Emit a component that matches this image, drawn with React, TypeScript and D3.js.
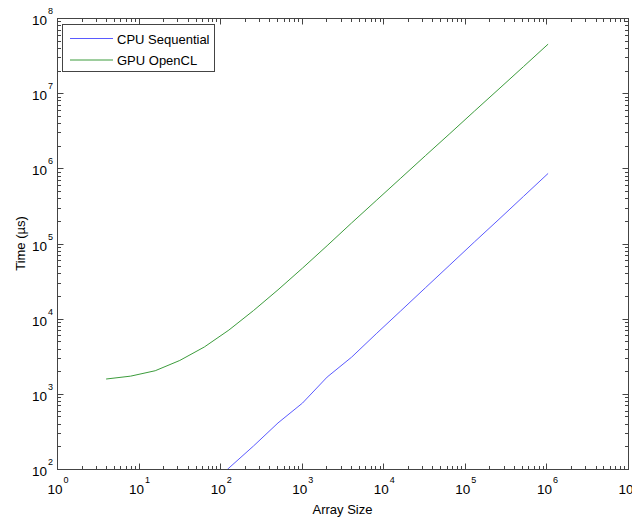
import React from "react";
import * as d3 from "d3";

const sizes = [4, 8, 16, 32, 64, 128, 256, 512, 1024, 2048, 4096, 8192, 16384, 32768, 65536, 131072, 262144, 524288, 1048576];
const gpuTimes = [1574, 1720, 2030, 2780, 4200, 7050, 12800, 24200, 47100, 93500, 188000, 373000, 740000, 1470000, 2900000, 5770000, 11400000, 22600000, 44900000];
const cpuSizes = [64, 128, 256, 512, 1024, 2048, 4096, 8192, 16384, 32768, 65536, 131072, 262144, 524288, 1048576];
const cpuTimes = [50, 103, 202, 410, 755, 1670, 3080, 6300, 12700, 25700, 51900, 105000, 210000, 424000, 855000];
const xDecades = [0, 1, 2, 3, 4, 5, 6, 7];
const yDecades = [2, 3, 4, 5, 6, 7, 8];
const seriesNames = ["CPU Sequential", "GPU OpenCL"];
const seriesColors = ["#5a5aff", "#3c9c3c"];

const W = 632, H = 522;
const L = 57, R = 628, T = 18, B = 469;
const FONT = "'Liberation Sans', Arial, Helvetica, sans-serif";
const AX = "#444";

export default function App() {
  const x = d3.scaleLog().domain([1, 1e7]).range([L, R]);
  const y = d3.scaleLog().domain([100, 1e8]).range([B, T]);
  const line = d3.line<[number, number]>().x(d => x(d[0])).y(d => y(d[1]));
  const cpu = line(cpuSizes.map((s, i) => [s, cpuTimes[i]]) as [number, number][]) || "";
  const gpu = line(sizes.map((s, i) => [s, gpuTimes[i]]) as [number, number][]) || "";

  const xTicks: { v: number; major: boolean }[] = [];
  xDecades.forEach((d, i) => {
    xTicks.push({ v: Math.pow(10, d), major: true });
    if (i < xDecades.length - 1) for (let k = 2; k <= 9; k++) xTicks.push({ v: k * Math.pow(10, d), major: false });
  });
  const yTicks: { v: number; major: boolean }[] = [];
  yDecades.forEach((d, i) => {
    yTicks.push({ v: Math.pow(10, d), major: true });
    if (i < yDecades.length - 1) for (let k = 2; k <= 9; k++) yTicks.push({ v: k * Math.pow(10, d), major: false });
  });
  const MJ = 6, MN = 3.5;

  return (
    <div style={{ position: "fixed", left: 0, top: 0 }}>
      <svg width={W} height={H} style={{ display: "block", background: "#fff" }} fontFamily={FONT}>
        <defs>
          <clipPath id="plot">
            <rect x={L} y={T} width={R - L} height={B - T} />
          </clipPath>
        </defs>
        <rect x={0} y={0} width={W} height={H} fill="#fff" />
        {xTicks.map((t, i) => {
          const px = Math.round(x(t.v)) + 0.5;
          const len = t.major ? MJ : MN;
          return (
            <g key={"xt" + i} stroke={AX} strokeWidth={1}>
              <line x1={px} x2={px} y1={B + 0.5} y2={B + 0.5 - len} />
              <line x1={px} x2={px} y1={T + 0.5} y2={T + 0.5 + len} />
            </g>
          );
        })}
        {yTicks.map((t, i) => {
          const py = Math.round(y(t.v)) + 0.5;
          const len = t.major ? MJ : MN;
          return (
            <g key={"yt" + i} stroke={AX} strokeWidth={1}>
              <line x1={L + 0.5} x2={L + 0.5 + len} y1={py} y2={py} />
              <line x1={R + 0.5} x2={R + 0.5 - len} y1={py} y2={py} />
            </g>
          );
        })}
        <rect x={L + 0.5} y={T + 0.5} width={R - L} height={B - T} fill="none" stroke={AX} strokeWidth={1} />
        <g clipPath="url(#plot)" fill="none" strokeWidth={1}>
          <path d={cpu} stroke={seriesColors[0]} />
          <path d={gpu} stroke={seriesColors[1]} />
        </g>
        {xDecades.map(d => (
          <g key={"xl" + d} transform={`translate(${x(Math.pow(10, d))},0)`}>
            <text x={-2} y={494} fontSize={13.5} textAnchor="middle" fill="#000">10</text>
            <text x={9} y={483} fontSize={9} textAnchor="middle" fill="#000">{d}</text>
          </g>
        ))}
        {yDecades.map(d => (
          <g key={"yl" + d} transform={`translate(0,${y(Math.pow(10, d))})`}>
            <text x={47} y={7} fontSize={13.5} textAnchor="end" fill="#000">10</text>
            <text x={48} y={-4} fontSize={9} textAnchor="start" fill="#000">{d}</text>
          </g>
        ))}
        <text x={(L + R) / 2} y={514} fontSize={13} textAnchor="middle" fill="#000">Array Size</text>
        <text transform={`translate(25,${(T + B) / 2}) rotate(-90)`} fontSize={13} textAnchor="middle" fill="#000">Time (µs)</text>
        <rect x={62.5} y={24.5} width={152} height={47} fill="#fff" stroke={AX} strokeWidth={1} />
        {seriesNames.map((n, i) => (
          <g key={n} transform={`translate(0,${38.5 + i * 21.5})`}>
            <line x1={70} x2={113} y1={0} y2={0} stroke={seriesColors[i]} strokeWidth={1} />
            <text x={117} y={5} fontSize={13} fill="#000">{n}</text>
          </g>
        ))}
      </svg>
    </div>
  );
}
